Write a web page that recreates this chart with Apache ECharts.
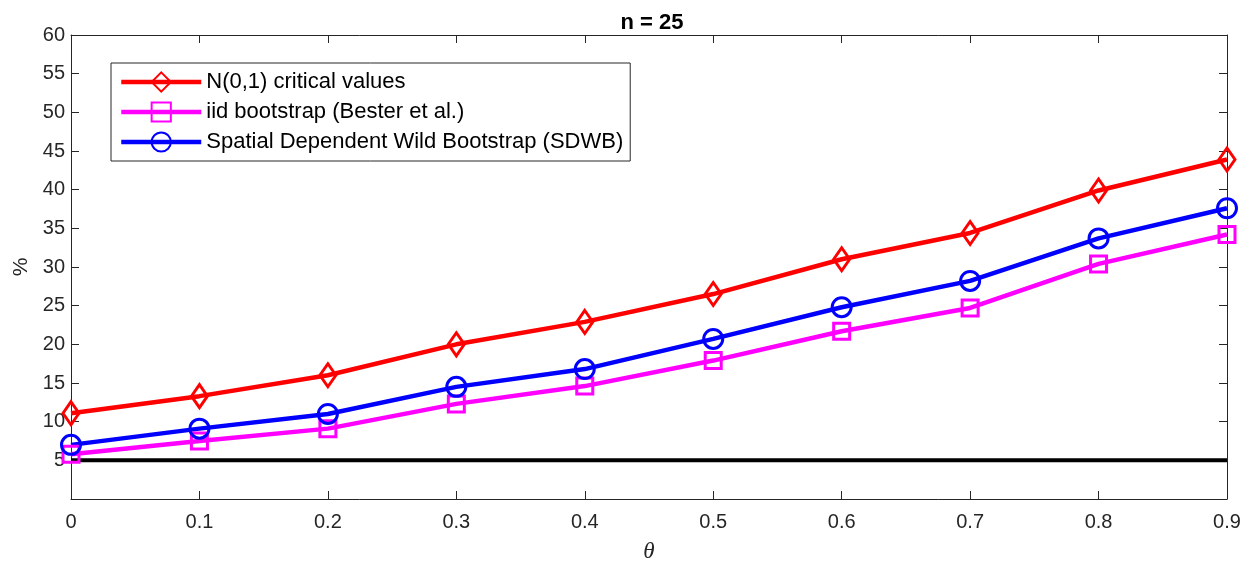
<!DOCTYPE html>
<html>
<head>
<meta charset="utf-8">
<script src="https://cdn.jsdelivr.net/npm/echarts@6/dist/echarts.min.js"></script>
<style>html,body{margin:0;padding:0;background:#fff}#c{width:1252px;height:564px}</style>
</head>
<body>
<div id="c"></div>
<script>
const theta = [0, 0.1, 0.2, 0.3, 0.4, 0.5, 0.6, 0.7, 0.8, 0.9];
const normalCV = [11.1, 13.3, 16.0, 20.0, 22.9, 26.5, 31.0, 34.4, 39.9, 43.9];
const iidBoot = [5.8, 7.5, 9.1, 12.3, 14.6, 17.9, 21.7, 24.7, 30.4, 34.2];
const sdwb = [7.0, 9.1, 11.0, 14.5, 16.8, 20.7, 24.8, 28.2, 33.7, 37.6];
const nominal = [5, 5, 5, 5, 5, 5, 5, 5, 5, 5];
const names = ['N(0,1) critical values', 'iid bootstrap (Bester et al.)', 'Spatial Dependent Wild Bootstrap (SDWB)'];

const pair = (ys) => theta.map((t, i) => [t, ys[i]]);
const font = 'Liberation Sans, Arial, sans-serif';
const axisCol = '#262626';

const chart = echarts.init(document.getElementById('c'));
function mk(name, data, color, symbol, size) {
  return {
    name, type: 'line', data: pair(data), symbol, symbolSize: size,
    showSymbol: true, z: 3,
    lineStyle: { color, width: 4.5 },
    itemStyle: { color: 'rgba(255,255,255,0)', borderColor: color, borderWidth: 3 }
  };
}
const hiddenAxisTick = { inside: true, length: 8, lineStyle: { color: axisCol } };
chart.setOption({
  animation: false,
  title: { text: 'n = 25', left: 647, top: 7, textAlign: 'center',
    textStyle: { fontFamily: font, fontSize: 22, fontWeight: 'bold', color: '#000' } },
  grid: { left: 71, right: 25, top: 35, bottom: 65, outerBoundsMode: 'none', containLabel: false },
  legend: {
    orient: 'vertical', left: 111, top: 63,
    padding: [7, 7, 7, 8], itemGap: 6, itemWidth: 80, itemHeight: 24,
    backgroundColor: '#fff', borderColor: axisCol, borderWidth: 1,
    lineStyle: { width: 4.5 },
    textStyle: { fontFamily: font, fontSize: 22, lineHeight: 24, color: '#000' },
    data: names
  },
  xAxis: [{
    type: 'value', min: 0, max: 0.9, interval: 0.1,
    name: 'θ', nameLocation: 'middle', nameGap: 41,
    nameTextStyle: { fontFamily: 'Liberation Serif, serif', fontStyle: 'italic', fontSize: 23, color: axisCol },
    axisLine: { onZero: false, lineStyle: { color: axisCol, width: 1 } },
    axisTick: { inside: true, length: 8, lineStyle: { color: axisCol } },
    axisLabel: { fontFamily: font, fontSize: 20, color: axisCol, margin: 13,
      formatter: v => (Math.round(v * 10) / 10).toString() },
    splitLine: { show: false }
  }, {
    type: 'value', position: 'top', min: 0, max: 0.9, interval: 0.1,
    axisLine: { onZero: false, lineStyle: { color: axisCol } },
    axisTick: hiddenAxisTick,
    axisLabel: { show: false }, splitLine: { show: false }
  }],
  yAxis: [{
    type: 'value', min: 0, max: 60, interval: 5,
    name: '%', nameLocation: 'middle', nameGap: 39, nameRotate: 90,
    nameTextStyle: { fontFamily: font, fontSize: 21, color: axisCol },
    axisLine: { onZero: false, lineStyle: { color: axisCol, width: 1 } },
    axisTick: { inside: true, length: 8, lineStyle: { color: axisCol } },
    axisLabel: { fontFamily: font, fontSize: 20, color: axisCol, margin: 6,
      formatter: v => v === 0 ? '' : String(v) },
    splitLine: { show: false }
  }, {
    type: 'value', position: 'right', min: 0, max: 60, interval: 5,
    axisLine: { onZero: false, lineStyle: { color: axisCol } },
    axisTick: hiddenAxisTick,
    axisLabel: { show: false }, splitLine: { show: false }
  }],
  series: [
    { name: 'nominal', type: 'line', data: pair(nominal), symbol: 'none', z: 2,
      lineStyle: { color: '#000', width: 4 } },
    mk(names[0], normalCV, '#ff0000', 'diamond', [16, 23]),
    mk(names[1], iidBoot, '#ff00ff', 'rect', [16, 16]),
    mk(names[2], sdwb, '#0000ff', 'circle', [19, 19])
  ]
});
</script>
</body>
</html>
